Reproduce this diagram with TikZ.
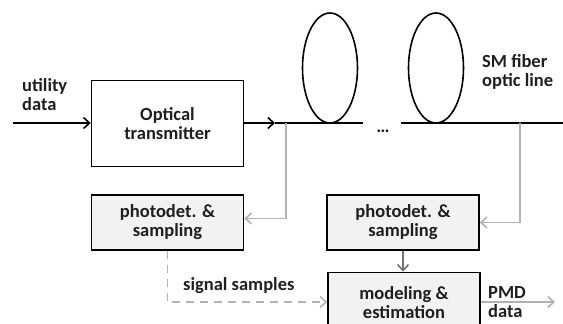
\documentclass[tikz,border=0pt]{standalone}
\usepackage{fontspec}
\setmainfont{Carlito}
\usetikzlibrary{arrows.meta,shapes.geometric}

\begin{document}
\begin{tikzpicture}[x=1pt, y=-1pt,
    every node/.style={font=\bfseries\fontsize{18.5}{19}\selectfont, text=black!88},
    blk/.style={draw=black, line width=1.6pt},
    gry/.style={draw=black!30, line width=1.6pt},
    box/.style={blk, minimum width=152pt, align=center, inner sep=0pt},
    tip/.style={-{Straight Barb[length=6pt, width=11pt]}}]
    \useasboundingbox (0,0) rectangle (563,324);

    % Blocks
    \node[box, minimum height=86pt, fill=white] (tx) at (167.5,123.5) {Optical\\transmitter};
    \node[box, minimum height=55pt, fill=black!5] (pdA) at (167.5,222.5) {photodet. \&\\sampling};
    \node[box, minimum height=55pt, fill=black!5] (pdB) at (403,222.5) {photodet. \&\\sampling};
    \node[box, minimum height=60pt, fill=black!5] (est) at (404,302.5) {modeling \&\\estimation};

    % Fiber loops
    \node[blk, ellipse, minimum width=55pt, minimum height=110pt, inner sep=0pt] (loopA) at (330,68) {};
    \node[blk, ellipse, minimum width=55pt, minimum height=110pt, inner sep=0pt] (loopB) at (436,68) {};

    % Labels
    \node[right, align=left, inner sep=0pt] (inlbl) at (22,95) {utility\\data};
    \node[right, align=left, inner sep=0pt] (fiblbl) at (482,72) {SM fiber\\optic line};
    \node[right, inner sep=0pt] (smplbl) at (183,286) {signal samples};
    \node[right, align=left, inner sep=0pt] (outlbl) at (488,302.5) {PMD\\data};
    \node (dots) at (383,131) {\dots};

    % Fiber line
    \coordinate (inA) at (13,123);
    \coordinate (arrA) at (275,123);
    \coordinate (fibA) at (363,123);
    \coordinate (fibB) at (401,123);
    \coordinate (fibC) at (563,123);
    \draw[blk, tip] (inA) -- (tx.west |- inA);
    \draw[blk, tip] (tx.east |- arrA) -- (arrA);
    \draw[blk] (arrA) -- (fibA);
    \draw[blk] (fibB) -- (fibC);

    % Taps
    \coordinate (tapA) at (286,123);
    \coordinate (tapB) at (520,123);
    \coordinate (pdAin) at ([yshift=4pt]pdA.east);
    \draw[gry, tip] (tapA) -- (tapA |- pdAin) -- (pdAin);
    \draw[gry, tip] (tapB) -- (tapB |- pdB.east) -- (pdB.east);
    \draw[draw=black!55, line width=1.6pt, tip] (pdB.south) -- (pdB.south |- est.north);

    % Samples and output
    \coordinate (smpA) at (167.5,302);
    \draw[gry, dash pattern=on 8pt off 6pt, tip] (pdA.south) -- (smpA) -- (smpA -| est.west);
    \coordinate (outA) at (555,302);
    \draw[gry, tip] (est.east |- outA) -- (outA);
\end{tikzpicture}
\end{document}
